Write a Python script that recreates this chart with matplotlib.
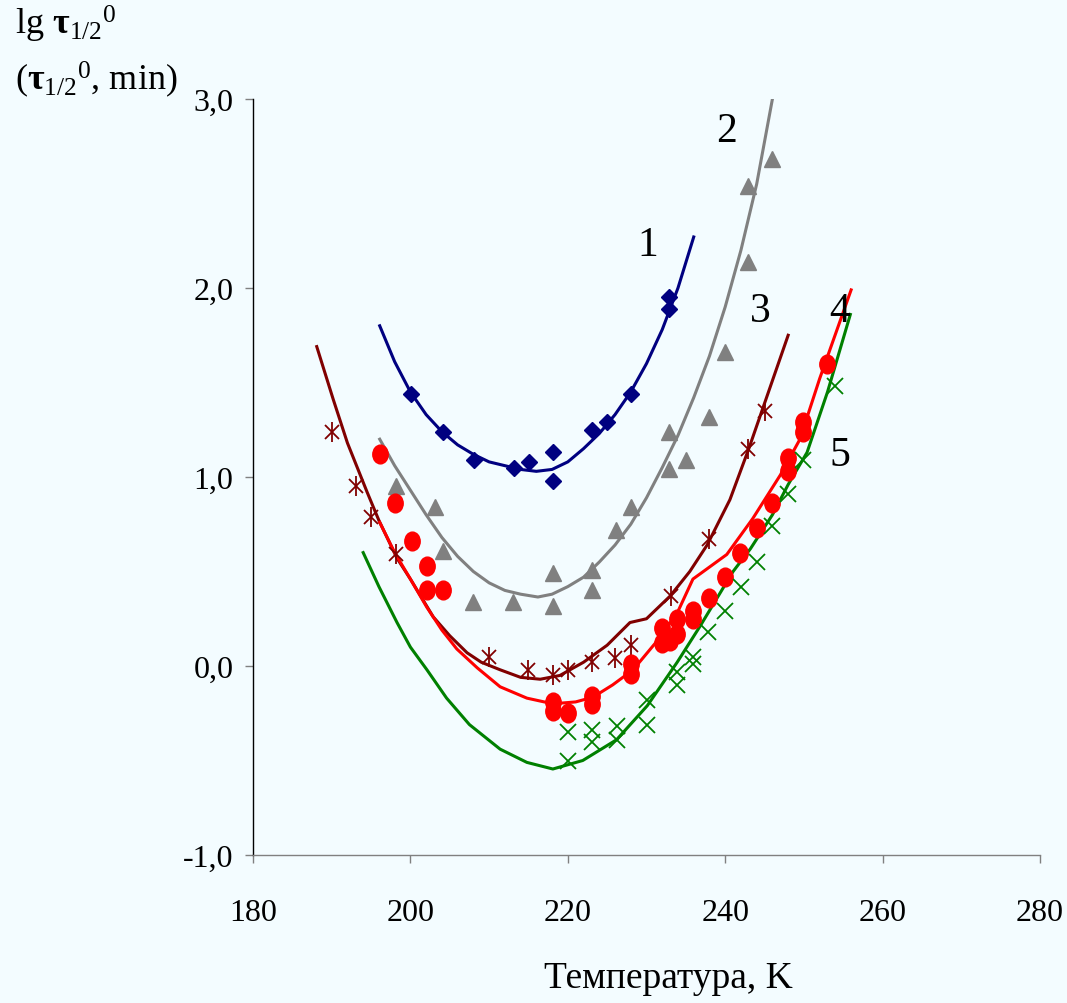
import matplotlib
matplotlib.use("Agg")
import matplotlib.pyplot as plt
from matplotlib.path import Path
from matplotlib.transforms import Affine2D

plt.rcParams['font.family'] = ['Liberation Serif', 'DejaVu Serif']
plt.rcParams['mathtext.fontset'] = 'custom'
plt.rcParams['mathtext.rm'] = 'Liberation Serif'
plt.rcParams['mathtext.it'] = 'Liberation Serif'
plt.rcParams['mathtext.bf'] = 'Liberation Serif:bold'

# --- measured points (T, lg tau) ---
t1 = [200.1, 204.1, 208.1, 213.2, 215.1, 218.1, 218.1, 223.1, 225.0, 228.0, 232.9, 232.9]
y1 = [1.44, 1.24, 1.09, 1.05, 1.08, 1.13, 0.98, 1.25, 1.29, 1.44, 1.89, 1.95]

t2 = [198.2, 203.1, 204.1, 208.0, 213.0, 218.1, 218.1, 223.1, 223.1, 226.1, 228.0,
      232.9, 232.9, 235.0, 237.9, 240.0, 242.9, 242.9, 245.9]
y2 = [0.95, 0.84, 0.61, 0.34, 0.34, 0.49, 0.32, 0.51, 0.40, 0.72, 0.84,
      1.24, 1.04, 1.09, 1.32, 1.66, 2.14, 2.54, 2.68]

t3 = [190.0, 193.1, 195.0, 198.2, 210.0, 215.0, 218.1, 220.0, 223.1, 226.0, 228.0,
      233.1, 237.9, 242.9, 245.1]
y3 = [1.24, 0.95, 0.79, 0.59, 0.05, -0.02, -0.05, -0.02, 0.02, 0.04, 0.11,
      0.37, 0.67, 1.15, 1.35]

t4 = [196.1, 198.0, 200.2, 202.1, 202.1, 204.1, 218.1, 218.1, 220.0, 223.1, 223.1,
      228.0, 228.0, 232.0, 232.0, 233.0, 233.9, 233.9, 235.9, 235.9, 237.9, 240.0,
      241.9, 244.0, 246.0, 248.0, 248.0, 249.9, 249.9, 252.9]
y4 = [1.12, 0.86, 0.66, 0.53, 0.40, 0.40, -0.19, -0.24, -0.25, -0.16, -0.20,
      0.01, -0.04, 0.20, 0.12, 0.13, 0.25, 0.17, 0.29, 0.25, 0.36, 0.47,
      0.60, 0.73, 0.86, 1.10, 1.03, 1.29, 1.24, 1.60]

t5 = [220.0, 220.0, 223.1, 223.1, 226.2, 226.2, 230.1, 230.1, 233.9, 233.9, 235.9,
      235.9, 237.8, 240.0, 242.0, 244.0, 245.9, 248.0, 249.9, 253.9]
y5 = [-0.35, -0.50, -0.34, -0.40, -0.32, -0.39, -0.18, -0.31, -0.03, -0.10, 0.05,
      0.01, 0.18, 0.29, 0.42, 0.55, 0.74, 0.91, 1.09, 1.48]

# --- fitted curves ---
c1_t = [196.1, 198.0, 200.0, 202.0, 204.0, 206.0, 208.0, 210.0, 212.0, 214.0, 216.0,
        218.0, 220.0, 222.0, 224.0, 226.0, 228.0, 230.0, 232.0, 234.0, 236.0]
c1_y = [1.80, 1.61, 1.45, 1.33, 1.24, 1.17, 1.12, 1.08, 1.06, 1.04, 1.03,
        1.04, 1.08, 1.15, 1.23, 1.33, 1.45, 1.60, 1.78, 2.00, 2.27]

c2_t = [196.1, 198.0, 200.0, 202.0, 204.0, 206.0, 208.0, 210.0, 212.0, 214.0, 216.2,
        218.0, 220.0, 222.0, 224.0, 226.0, 228.0, 230.0, 232.0, 234.0, 236.0, 238.0,
        240.0, 242.0, 244.0, 246.0]
c2_y = [1.20, 1.06, 0.93, 0.80, 0.68, 0.58, 0.50, 0.44, 0.40, 0.38, 0.365,
        0.38, 0.42, 0.47, 0.55, 0.64, 0.75, 0.89, 1.05, 1.22, 1.42, 1.64,
        1.90, 2.20, 2.55, 3.00]

c3_t = [188.1, 190.2, 192.0, 194.5, 196.0, 198.3, 200.0, 202.9, 205.0, 207.2, 209.0,
        211.4, 214.0, 216.5, 219.0, 222.0, 225.0, 227.9, 230.0, 233.0, 235.5, 237.7,
        240.6, 243.0, 245.5, 248.0]
c3_y = [1.69, 1.41, 1.18, 0.92, 0.77, 0.57, 0.46, 0.26, 0.16, 0.07, 0.02,
        -0.02, -0.06, -0.07, -0.05, 0.02, 0.11, 0.23, 0.25, 0.37, 0.50, 0.64,
        0.88, 1.15, 1.45, 1.75]

c4_t = [196.1, 198.0, 200.0, 202.1, 204.0, 205.9, 208.5, 211.4, 214.8, 218.1, 221.0,
        223.2, 225.7, 228.3, 231.3, 233.9, 235.9, 240.2, 243.5, 247.0, 249.5, 252.0, 256.0]
c4_y = [0.76, 0.60, 0.46, 0.31, 0.19, 0.09, -0.01, -0.11, -0.17, -0.20, -0.19,
        -0.165, -0.10, -0.02, 0.13, 0.28, 0.46, 0.59, 0.78, 1.01, 1.20, 1.52, 1.99]

c5_t = [194.0, 196.0, 198.3, 200.0, 202.1, 204.6, 207.5, 211.4, 214.8, 218.1, 221.9,
        226.2, 230.1, 233.9, 236.8, 241.0, 243.2, 246.0, 248.0, 250.4, 253.0, 255.9]
c5_y = [0.60, 0.42, 0.23, 0.10, -0.02, -0.17, -0.31, -0.44, -0.51, -0.545, -0.50,
        -0.39, -0.21, 0.02, 0.21, 0.50, 0.62, 0.80, 0.96, 1.13, 1.45, 1.86]

curve_labels = ["1", "2", "3", "4", "5"]
label_t = [230.2, 240.2, 244.4, 254.6, 254.6]
label_y = [2.23, 2.83, 1.88, 1.88, 1.12]

x_ticks = [180, 200, 220, 240, 260, 280]
y_ticks = [-1, 0, 1, 2, 3]
y_tick_labels = ["-1,0", "0,0", "1,0", "2,0", "3,0"]

bg = '#F3FCFF'
navy = '#000080'
gray = '#808080'
maroon = '#800000'
red = '#FF0000'
green = '#008000'

fig = plt.figure(figsize=(10.67, 10.04), dpi=100, facecolor=bg)
ax = fig.add_axes([253 / 1067, 1 - 856 / 1004, 787 / 1067, 756 / 1004])
ax.set_facecolor(bg)

lw = 2.2
ax.plot(c1_t, c1_y, color=navy, lw=lw)
ax.plot(c2_t, c2_y, color=gray, lw=lw)
ax.plot(c3_t, c3_y, color=maroon, lw=lw)
ax.plot(c4_t, c4_y, color=red, lw=lw)
ax.plot(c5_t, c5_y, color=green, lw=lw)

# circles in the source are slightly taller than wide
ellipse = Path.unit_circle().transformed(Affine2D().scale(0.82, 1.0))

ax.plot(t1, y1, ls='none', marker='D', ms=8, color=navy)
ax.plot(t2, y2, ls='none', marker='^', ms=11, color=gray)
ax.plot(t3, y3, ls='none', marker='x', ms=10, mew=1.3, color=maroon)
ax.plot(t3, y3, ls='none', marker='|', ms=14, mew=1.3, color=maroon)
ax.plot(t4, y4, ls='none', marker=ellipse, ms=13.5, color=red)
ax.plot(t5, y5, ls='none', marker='x', ms=12, mew=1.3, color=green)

for lab, lt, ly in zip(curve_labels, label_t, label_y):
    ax.text(lt, ly, lab, fontsize=30, ha='center', va='center', color='black')

ax.set_xlim(180, 280)
ax.set_ylim(-1, 3)
ax.set_xticks(x_ticks)
ax.set_xticklabels([str(v) for v in x_ticks])
ax.set_yticks(y_ticks)
ax.set_yticklabels(y_tick_labels)

for s in ['top', 'right']:
    ax.spines[s].set_visible(False)
ax.spines['left'].set_color('black')
ax.spines['left'].set_linewidth(1.0)
ax.spines['bottom'].set_color(gray)
ax.spines['bottom'].set_linewidth(1.0)

ax.tick_params(axis='x', direction='out', length=6, width=1.0, color=gray,
               labelsize=23, pad=25)
ax.tick_params(axis='y', direction='out', length=6, width=1.0, color=gray,
               labelsize=23, pad=8)

fig.text(15 / 1067, 1 - 35 / 1004, r'lg $\mathbf{τ}_{1/2}{}^{0}$', fontsize=26,
         ha='left', va='baseline')
fig.text(15 / 1067, 1 - 90 / 1004, r'($\mathbf{τ}_{1/2}{}^{0}$, min)', fontsize=26,
         ha='left', va='baseline')
fig.text(668 / 1067, 1 - 988 / 1004, 'Температура, K', fontsize=27,
         ha='center', va='baseline')

fig.savefig('out.png', dpi=100, facecolor=bg)
